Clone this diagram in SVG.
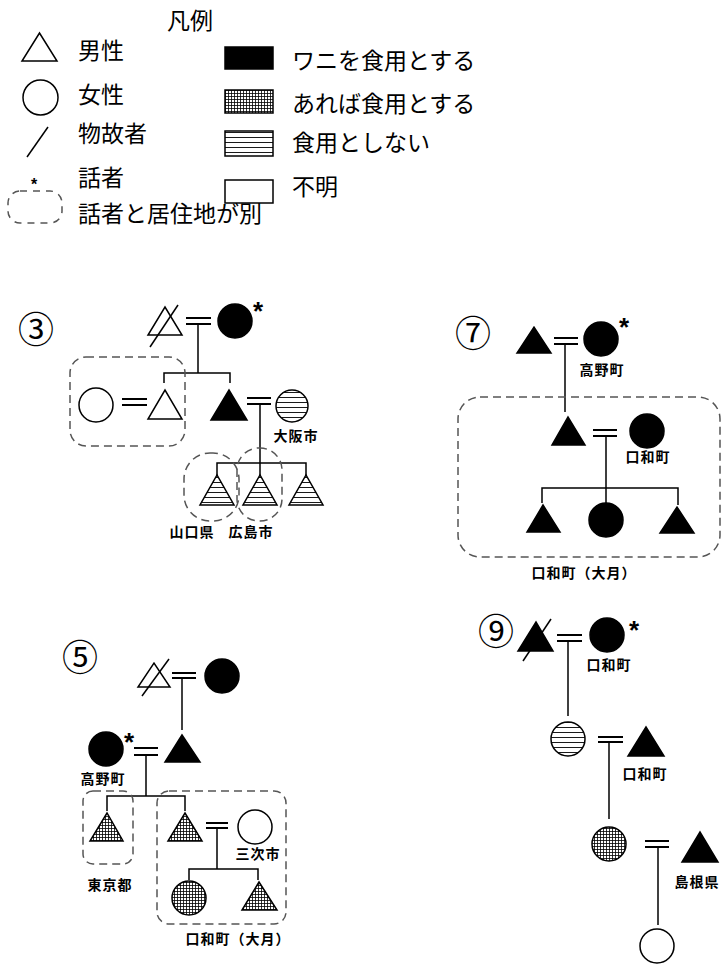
<svg xmlns="http://www.w3.org/2000/svg" width="724" height="964" viewBox="0 0 724 964">
<style>
text{font-family:"Noto Sans CJK JP","Noto Sans CJK SC",sans-serif;fill:#000}
.lg{font-size:23px;dominant-baseline:central}
.lb{font-size:14px;font-weight:bold;dominant-baseline:central;text-anchor:middle;letter-spacing:1px}
.num{font-size:36px;dominant-baseline:central;text-anchor:middle}
.ast{font-family:"Liberation Sans",sans-serif;font-size:26px;font-weight:bold;text-anchor:middle}
.s{stroke:#000;stroke-width:1.5;fill:#fff}
.k{fill:#000;stroke:#000;stroke-width:1.5}
.g{fill:url(#grid);stroke:#000;stroke-width:1.5}
.h{fill:url(#stripe);stroke:#000;stroke-width:1.5}
.ln{stroke:#000;stroke-width:1.5;fill:none}
.eq{stroke:#000;stroke-width:2;fill:none}
.d{stroke:#555;stroke-width:1.5;fill:none;stroke-dasharray:8 5}
</style>
<defs>
<pattern id="grid" width="3" height="3" patternUnits="userSpaceOnUse"><rect width="3" height="3" fill="#fff"/><path d="M0 0.5H3M0.5 0V3" stroke="#000" stroke-width="0.8"/></pattern>
<pattern id="stripe" width="6" height="5" patternUnits="userSpaceOnUse"><rect width="6" height="5" fill="#fff"/><path d="M0 2.5H6" stroke="#000" stroke-width="0.9"/></pattern>
</defs>
<rect width="724" height="964" fill="#fff"/>

<g id="legend">
<text class="lg" x="190" y="19" text-anchor="middle">凡例</text>
<polygon class="s" points="22,61 57,61 39.5,33"/>
<text class="lg" x="78" y="49">男性</text>
<circle class="s" cx="40.5" cy="97.5" r="17.5"/>
<text class="lg" x="78" y="93">女性</text>
<line class="ln" x1="27" y1="157" x2="48" y2="127"/>
<text class="lg" x="78" y="132">物故者</text>
<text class="ast" x="34" y="190" style="font-size:16px">*</text>
<text class="lg" x="78" y="176">話者</text>
<rect class="d" x="8" y="191" width="54" height="32" rx="12" style="stroke-dasharray:7 6"/>
<text class="lg" x="78" y="212">話者と居住地が別</text>
<rect x="225" y="47" width="48" height="22" fill="#000" stroke="#000" stroke-width="1.5"/>
<text class="lg" x="292" y="59">ワニを食用とする</text>
<rect class="g" x="225" y="90" width="48" height="23"/>
<text class="lg" x="292" y="102">あれば食用とする</text>
<rect class="h" x="225" y="131" width="48" height="25"/>
<text class="lg" x="292" y="141">食用としない</text>
<rect class="s" x="225" y="180" width="48" height="23"/>
<text class="lg" x="292" y="185">不明</text>
</g>

<g id="connectors">
<!-- family 3 -->
<path class="eq" d="M186 318H211M186 324H211"/>
<path class="ln" d="M198 324V373M164 383V373H230V383"/>
<path class="eq" d="M122 399H147M122 405H147"/>
<path class="eq" d="M247 398H271M247 404H271"/>
<path class="ln" d="M260 404V475M217 475V463H306V475"/>
<!-- family 7 -->
<path class="eq" d="M554 338H578M554 344H578"/>
<path class="ln" d="M565 344V412"/>
<path class="eq" d="M593 430H617M593 436H617"/>
<path class="ln" d="M606 436V503M542 503V488H678V505"/>
<!-- family 5 -->
<path class="eq" d="M172 673H196M172 678H196"/>
<path class="ln" d="M182 678V730"/>
<path class="eq" d="M134 748H158M134 755H158"/>
<path class="ln" d="M146 755V796M107 811V796H185V811"/>
<path class="eq" d="M206 823H228M206 828H228"/>
<path class="ln" d="M217 828V869M189 880V869H258V880"/>
<!-- family 9 -->
<path class="eq" d="M557 635H582M557 641H582"/>
<path class="ln" d="M568 641V716"/>
<path class="eq" d="M598 737H623M598 742H623"/>
<path class="ln" d="M609 742V819"/>
<path class="eq" d="M645 841H669M645 847H669"/>
<path class="ln" d="M658 847V925"/>
</g>

<g id="family3">
<text class="num" x="36" y="327">③</text>
<polygon class="s" points="148,335 182,335 165,307"/>
<line class="ln" x1="150" y1="347" x2="178" y2="305"/>
<circle class="k" cx="235" cy="321" r="17"/>
<text class="ast" x="258" y="320">*</text>
<rect class="d" x="70" y="357" width="115" height="89" rx="16"/>
<circle class="s" cx="96" cy="405" r="17"/>
<polygon class="s" points="148,419 182,419 165,390"/>
<polygon class="k" points="211,420 247,420 229,390"/>
<circle class="h" cx="292" cy="406" r="16"/>
<text class="lb" x="296" y="435">大阪市</text>
<polygon class="h" points="200,505 234,505 217,475"/>
<polygon class="h" points="243,505 277,505 260,475"/>
<polygon class="h" points="289,505 323,505 306,475"/>
<rect class="d" x="184" y="453" width="55" height="68" rx="26"/>
<rect class="d" x="237" y="448" width="45" height="73" rx="22"/>
<text class="lb" x="192" y="531">山口県</text>
<text class="lb" x="251" y="531">広島市</text>
</g>

<g id="family7">
<text class="num" x="473" y="331">⑦</text>
<polygon class="k" points="517,353 551,353 534,327"/>
<circle class="k" cx="601" cy="339" r="17"/>
<text class="ast" x="624" y="336">*</text>
<text class="lb" x="602" y="369">高野町</text>
<rect class="d" x="458" y="397" width="262" height="160" rx="22"/>
<polygon class="k" points="552,445 585,445 568,417"/>
<circle class="k" cx="647" cy="431" r="17"/>
<text class="lb" x="648" y="456">口和町</text>
<polygon class="k" points="527,532 560,532 543,505"/>
<circle class="k" cx="606" cy="520" r="17"/>
<polygon class="k" points="660,533 694,533 677,507"/>
<text class="lb" x="584" y="572">口和町（大月）</text>
</g>

<g id="family5">
<text class="num" x="80" y="655">⑤</text>
<polygon class="s" points="138,687 170,687 154,663"/>
<line class="ln" x1="142" y1="696" x2="169" y2="659"/>
<circle class="k" cx="222" cy="676" r="17"/>
<polygon class="k" points="165,762 200,762 182,735"/>
<circle class="k" cx="106" cy="749" r="17"/>
<text class="ast" x="129" y="751">*</text>
<text class="lb" x="103" y="778">高野町</text>
<rect class="d" x="83" y="791" width="50" height="73" rx="10"/>
<polygon class="g" points="90,841 123,841 107,813"/>
<text class="lb" x="110" y="884">東京都</text>
<rect class="d" x="157" y="791" width="129" height="133" rx="12"/>
<polygon class="g" points="168,841 202,841 185,813"/>
<circle class="s" cx="255" cy="827" r="17"/>
<text class="lb" x="258" y="853">三次市</text>
<circle class="g" cx="189" cy="898" r="17"/>
<polygon class="g" points="242,910 277,910 259,882"/>
<text class="lb" x="238" y="938">口和町（大月）</text>
</g>

<g id="family9">
<text class="num" x="496" y="629">⑨</text>
<polygon class="k" points="518,651 553,651 536,622"/>
<line class="ln" x1="523" y1="661" x2="551" y2="619"/>
<circle class="k" cx="607" cy="635" r="17"/>
<text class="ast" x="634" y="639">*</text>
<text class="lb" x="609" y="664">口和町</text>
<circle class="h" cx="568" cy="739" r="17"/>
<polygon class="k" points="628,756 664,756 646,727"/>
<text class="lb" x="645" y="773">口和町</text>
<circle class="g" cx="609" cy="844" r="17"/>
<polygon class="k" points="682,862 718,862 700,832"/>
<text class="lb" x="697" y="881">島根県</text>
<circle class="s" cx="657" cy="946" r="17"/>
</g>
</svg>
